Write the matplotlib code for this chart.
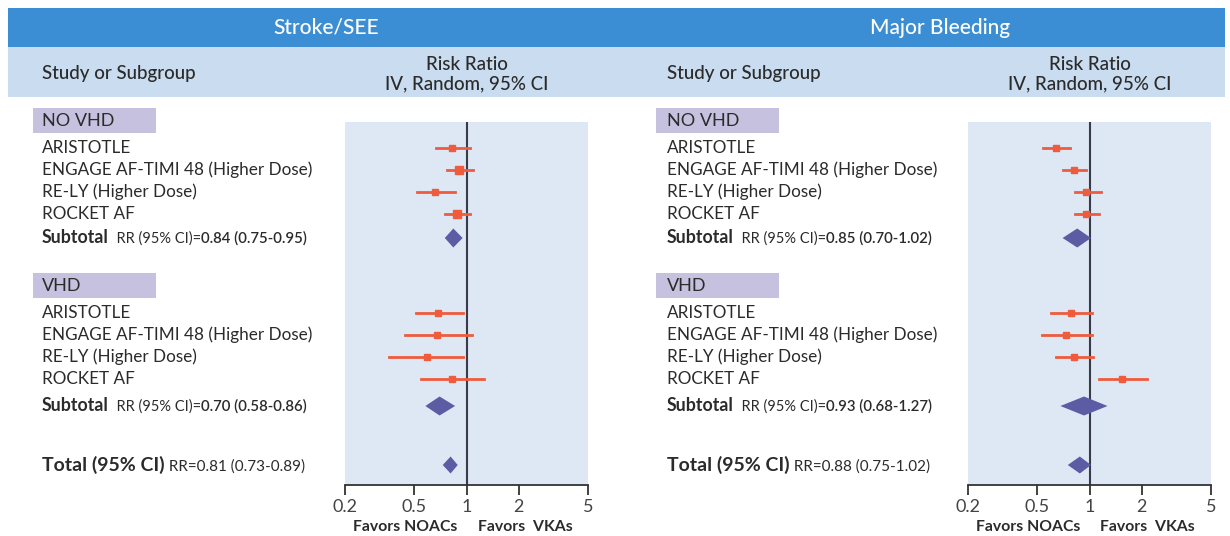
import matplotlib
matplotlib.use("Agg")
import matplotlib.pyplot as plt
from matplotlib import font_manager
from matplotlib.patches import Rectangle
from matplotlib.ticker import FixedLocator, FixedFormatter, NullLocator

# pick a narrow-ish sans if there is one
installed = {f.name for f in font_manager.fontManager.ttflist}
FONT = next(n for n in ["Liberation Sans Narrow", "Lato", "Open Sans", "DejaVu Sans"] if n in installed)
plt.rcParams["font.family"] = [FONT, "DejaVu Sans"]

# ---- data ----
studies = ["ARISTOTLE", "ENGAGE AF-TIMI 48 (Higher Dose)", "RE-LY (Higher Dose)", "ROCKET AF"]
groups = ["NO VHD", "VHD"]
panels = ["Stroke/SEE", "Major Bleeding"]

stroke_novhd_rr = [0.83, 0.91, 0.66, 0.88]
stroke_novhd_lo = [0.67, 0.77, 0.52, 0.75]
stroke_novhd_hi = [1.05, 1.09, 0.86, 1.05]
stroke_novhd_wt = [20, 32, 14, 32]
stroke_vhd_rr = [0.69, 0.68, 0.59, 0.82]
stroke_vhd_lo = [0.51, 0.44, 0.36, 0.55]
stroke_vhd_hi = [0.95, 1.07, 0.95, 1.26]
stroke_vhd_wt = [14, 14, 12, 20]
stroke_sub_rr = [0.84, 0.70]
stroke_sub_lo = [0.75, 0.58]
stroke_sub_hi = [0.95, 0.86]
stroke_total = [0.81, 0.73, 0.89]

bleed_novhd_rr = [0.64, 0.81, 0.96, 0.96]
bleed_novhd_lo = [0.54, 0.70, 0.82, 0.83]
bleed_novhd_hi = [0.77, 0.95, 1.16, 1.14]
bleed_novhd_wt = [18, 16, 18, 18]
bleed_vhd_rr = [0.78, 0.73, 0.81, 1.53]
bleed_vhd_lo = [0.60, 0.53, 0.64, 1.13]
bleed_vhd_hi = [1.03, 1.03, 1.05, 2.15]
bleed_vhd_wt = [18, 20, 18, 18]
bleed_sub_rr = [0.85, 0.93]
bleed_sub_lo = [0.70, 0.68]
bleed_sub_hi = [1.02, 1.27]
bleed_total = [0.88, 0.75, 1.02]

ticks = [0.2, 0.5, 1, 2, 5]
tick_labels = ["0.2", "0.5", "1", "2", "5"]

# ---- colours ----
BANNER = "#3C8ED4"
BAND = "#C9DCF0"
PLOTBG = "#DDE8F4"
GROUPBOX = "#C5C1DF"
CI_RED = "#EE5B3D"
DIAMOND = "#5B5CA3"
TXT = "#2B2B2B"

fig = plt.figure(figsize=(12.3, 5.36), dpi=100)
W, H = 1230, 536
bg = fig.add_axes([0, 0, 1, 1])
bg.set_xlim(0, W)
bg.set_ylim(H, 0)
bg.axis("off")

# header banners
bg.add_patch(Rectangle((8, 8), 1217, 39, color=BANNER, lw=0))
bg.add_patch(Rectangle((8, 47), 1217, 50, color=BAND, lw=0))

# row layout (figure pixels from top)
group_y = [120, 285]
row_y = [[148, 170, 192, 214], [313, 335, 357, 379]]
sub_y = [238, 406]
total_y = 465

panel_x = [(42, 33, 345, 326), (667, 656, 968, 940)]  # label x, box x, axes x, title x
AX_W = 243
AX_TOP, AX_BOT = 122, 485


def rich_text(x, y, parts):
    # parts: list of (text, size, weight); chained left to right on one baseline
    t = bg.text(x, y, parts[0][0], fontsize=parts[0][1], fontweight=parts[0][2],
                color=TXT, va="baseline")
    for s, size, weight in parts[1:]:
        t = bg.annotate(s, xy=(1, 0), xycoords=t, fontsize=size, fontweight=weight,
                        color=TXT, va="bottom")


data = [
    dict(rr=[stroke_novhd_rr, stroke_vhd_rr], lo=[stroke_novhd_lo, stroke_vhd_lo],
         hi=[stroke_novhd_hi, stroke_vhd_hi], wt=[stroke_novhd_wt, stroke_vhd_wt],
         sub=(stroke_sub_rr, stroke_sub_lo, stroke_sub_hi), total=stroke_total),
    dict(rr=[bleed_novhd_rr, bleed_vhd_rr], lo=[bleed_novhd_lo, bleed_vhd_lo],
         hi=[bleed_novhd_hi, bleed_vhd_hi], wt=[bleed_novhd_wt, bleed_vhd_wt],
         sub=(bleed_sub_rr, bleed_sub_lo, bleed_sub_hi), total=bleed_total),
]

for p, name in enumerate(panels):
    lx, bx, axx, tx = panel_x[p]
    d = data[p]
    bg.text(tx, 28, name, color="white", fontsize=15, fontweight="medium", ha="center", va="center")
    bg.text(lx, 73, "Study or Subgroup", color=TXT, fontsize=13.5, fontweight="medium", va="center")
    bg.text(axx + AX_W / 2, 64, "Risk Ratio", color=TXT, fontsize=13.5, fontweight="medium",
            ha="center", va="center")
    bg.text(axx + AX_W / 2, 84, "IV, Random, 95% CI", color=TXT, fontsize=13.5, fontweight="medium",
            ha="center", va="center")

    ax = fig.add_axes([axx / W, 1 - AX_BOT / H, AX_W / W, (AX_BOT - AX_TOP) / H])
    ax.set_facecolor(PLOTBG)
    ax.set_xscale("log")
    ax.set_xlim(0.2, 5)
    ax.set_ylim(AX_BOT, AX_TOP)
    for s in ["top", "left", "right"]:
        ax.spines[s].set_visible(False)
    ax.spines["bottom"].set_color("#333333")
    ax.spines["bottom"].set_linewidth(1.3)
    ax.xaxis.set_major_locator(FixedLocator(ticks))
    ax.xaxis.set_major_formatter(FixedFormatter(tick_labels))
    ax.xaxis.set_minor_locator(NullLocator())
    ax.tick_params(axis="x", direction="out", length=7, width=1.3, color="#333333",
                   labelsize=13, labelcolor="#444444", pad=3)
    ax.set_yticks([])
    ax.axvline(1, color="#3A3A48", lw=1.5, zorder=2)

    for g, gname in enumerate(groups):
        bg.add_patch(Rectangle((bx, group_y[g] - 12), 123, 25, color=GROUPBOX, lw=0))
        bg.text(lx, group_y[g] + 1, gname, color=TXT, fontsize=13, va="center")
        for i, st in enumerate(studies):
            y = row_y[g][i]
            bg.text(lx, y, st, color=TXT, fontsize=12.3, va="center")
            ax.plot([d["lo"][g][i], d["hi"][g][i]], [y, y], color=CI_RED, lw=2, zorder=3)
            ax.plot(d["rr"][g][i], y, marker="s", color=CI_RED, ms=d["wt"][g][i] ** 0.5 * 1.1,
                    lw=0, zorder=4)
        rr, lo, hi = d["sub"][0][g], d["sub"][1][g], d["sub"][2][g]
        h = 9.5
        ax.fill([lo, rr, hi, rr], [sub_y[g], sub_y[g] - h, sub_y[g], sub_y[g] + h],
                color=DIAMOND, lw=0, zorder=4)
        rich_text(lx, sub_y[g] + 5, [("Subtotal", 12.8, "bold"),
                                     ("  RR (95% CI)=", 10.5, "normal"),
                                     (f"{rr:.2f} ({lo:.2f}-{hi:.2f})", 10.8, "semibold")])

    rr, lo, hi = d["total"]
    h = 8.5
    ax.fill([lo, rr, hi, rr], [total_y, total_y - h, total_y, total_y + h],
            color=DIAMOND, lw=0, zorder=4)
    rich_text(lx, total_y + 6, [("Total (95% CI)", 14, "bold"),
                                (f" RR={rr:.2f} ({lo:.2f}-{hi:.2f})", 11, "normal")])

    ax.annotate("Favors NOACs", xy=(1, 0), xycoords=("data", "axes fraction"),
                xytext=(-9, -42), textcoords="offset pixels", ha="right", va="center",
                fontsize=11.3, fontweight="bold", color=TXT)
    ax.annotate("Favors  VKAs", xy=(1, 0), xycoords=("data", "axes fraction"),
                xytext=(11, -42), textcoords="offset pixels", ha="left", va="center",
                fontsize=11.3, fontweight="bold", color=TXT)

fig.savefig("out.png", dpi=100)
